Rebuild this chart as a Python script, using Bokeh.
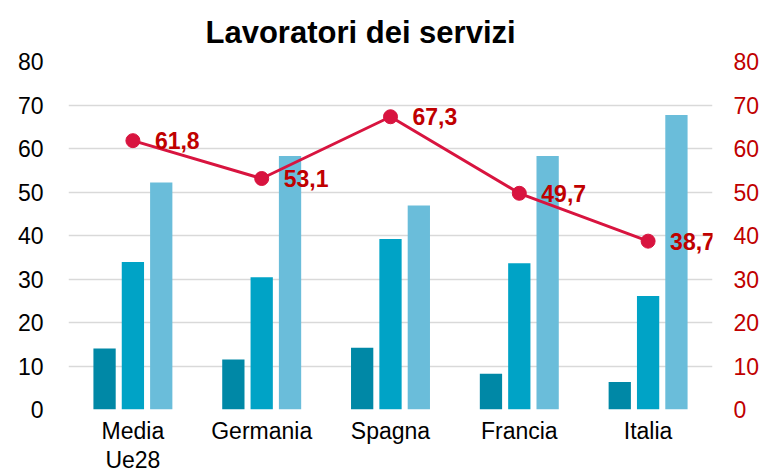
from bokeh.plotting import figure
from bokeh.models import ColumnDataSource, FactorRange, Range1d, LinearAxis, FixedTicker, LabelSet
from bokeh.transform import dodge
from bokeh.core.properties import value
from bokeh.embed import file_html
from bokeh.resources import INLINE

# ---- data ----
categories = ["Media\nUe28", "Germania", "Spagna", "Francia", "Italia"]
serie_scura = [14.0, 11.5, 14.2, 8.2, 6.3]
serie_media = [33.9, 30.4, 39.2, 33.6, 26.1]
serie_chiara = [52.2, 58.3, 46.9, 58.3, 67.7]
linea = [61.8, 53.1, 67.3, 49.7, 38.7]
y_ticks = [0, 10, 20, 30, 40, 50, 60, 70, 80]
titolo = "Lavoratori dei servizi"

FONT = "Liberation Sans"
C_DARK = "#0088A6"
C_MID = "#00A3C6"
C_LIGHT = "#6ABDDA"
C_LINE = "#D8143F"
C_LABEL = "#C00000"

src = ColumnDataSource(dict(
    cat=categories,
    a=serie_scura,
    b=serie_media,
    c=serie_chiara,
    line=linea,
    lbl=[f"{v:.1f}".replace(".", ",") for v in linea],
))

p = figure(
    width=765, height=475,
    x_range=FactorRange(*categories, range_padding=0),
    y_range=Range1d(0, 80),
    output_backend="svg", toolbar_location=None,
    min_border_left=68, min_border_right=53,
    min_border_top=61, min_border_bottom=65,
)
p.extra_y_ranges = {"right": Range1d(0, 80)}
p.outline_line_color = None
p.background_fill_color = "white"
p.border_fill_color = "white"

# title
p.title.text = titolo
p.title.text_font = FONT
p.title.text_font_size = "31px"
p.title.text_font_style = "bold"
p.title.text_color = "#000000"
p.title.align = "left"
p.title.offset = 137
p.title.standoff = 23

# grids
p.xgrid.grid_line_color = None
p.ygrid.grid_line_color = "#D9D9D9"
p.ygrid.grid_line_width = 1.5
p.ygrid.ticker = FixedTicker(ticks=y_ticks)

# bars
bw = 0.173
p.vbar(x=dodge("cat", -0.22, range=p.x_range), top="a", width=bw, source=src,
       fill_color=C_DARK, line_color=None)
p.vbar(x=dodge("cat", 0.0, range=p.x_range), top="b", width=bw, source=src,
       fill_color=C_MID, line_color=None)
p.vbar(x=dodge("cat", 0.22, range=p.x_range), top="c", width=bw, source=src,
       fill_color=C_LIGHT, line_color=None)

# line on right axis
p.line(x="cat", y="line", source=src, y_range_name="right",
       line_color=C_LINE, line_width=3)
p.scatter(x="cat", y="line", source=src, y_range_name="right",
          size=14, fill_color=C_LINE, line_color=C_LINE)

labels = LabelSet(x="cat", y="line", text="lbl", source=src, y_range_name="right",
                  x_offset=22, y_offset=0, text_baseline="middle", text_align="left",
                  text_font=value(FONT), text_font_style="bold",
                  text_font_size="23px", text_color=C_LABEL)
p.add_layout(labels)

# axes
def style_axis(ax, color):
    ax.axis_line_color = None
    ax.major_tick_line_color = None
    ax.minor_tick_line_color = None
    ax.major_tick_out = 0
    ax.major_tick_in = 0
    ax.major_label_text_font = FONT
    ax.major_label_text_font_size = "23px"
    ax.major_label_text_color = color

yl = p.yaxis[0]
yl.ticker = FixedTicker(ticks=y_ticks)
style_axis(yl, "#000000")
yl.major_label_standoff = 25

yr = LinearAxis(y_range_name="right", ticker=FixedTicker(ticks=y_ticks))
style_axis(yr, C_LABEL)
yr.major_label_standoff = 21
p.add_layout(yr, "right")

xa = p.xaxis[0]
style_axis(xa, "#000000")
xa.major_label_standoff = 8
xa.major_label_text_line_height = 1.13

open("out.html", "w").write(file_html(p, INLINE))
